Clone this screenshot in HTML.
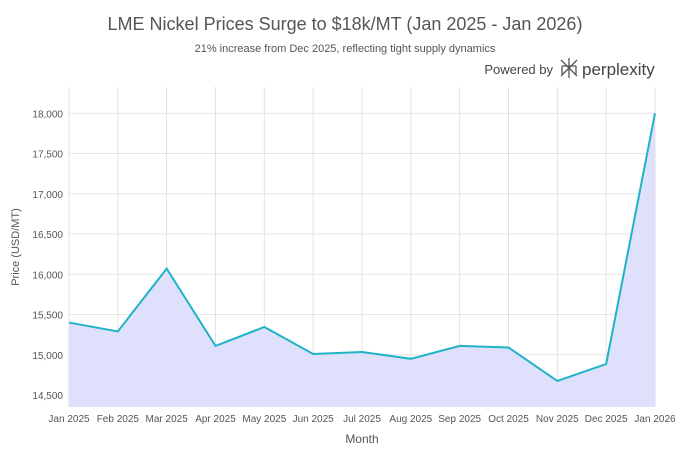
<!DOCTYPE html>
<html><head><meta charset="utf-8"><style>
body{margin:0;background:#fff;font-family:"Liberation Sans",sans-serif;}
svg text{font-family:"Liberation Sans",sans-serif;}
</style></head><body>
<svg id="c" width="690" height="459">
<text x="345" y="30" text-anchor="middle" font-size="18" fill="#555">LME Nickel Prices Surge to $18k/MT (Jan 2025 - Jan 2026)</text>
<text x="345" y="52" text-anchor="middle" font-size="11" fill="#555">21% increase from Dec 2025, reflecting tight supply dynamics</text>
<g>
<text x="553" y="74" text-anchor="end" font-size="13" fill="#444">Powered by</text>
<g stroke="#555" stroke-width="1.3" fill="none"><path d="M561 60 L577 76 M577 60 L561 76 M569 58 L569 78 M562 66 L576 66 M562 66 L562 74 M576 66 L576 74"/></g>
<text x="582" y="75" font-size="17" fill="#444">perplexity</text>
</g>
<g id="grid"></g>
<path id="area" fill="#dfe0fb"/>
<path id="line" fill="none" stroke="#1fb3c8" stroke-width="2"/>
<g id="yt"></g><g id="xt"></g>
<text x="0" y="0" transform="translate(19,247) rotate(-90)" text-anchor="middle" font-size="11" fill="#555">Price (USD/MT)</text>
<text x="362" y="443" text-anchor="middle" font-size="12" fill="#555">Month</text>
</svg>
<script>
const categories=["Jan 2025","Feb 2025","Mar 2025","Apr 2025","May 2025","Jun 2025","Jul 2025","Aug 2025","Sep 2025","Oct 2025","Nov 2025","Dec 2025","Jan 2026"];
const prices=[15400,15290,16070,15110,15345,15010,15035,14950,15110,15090,14675,14885,18000];
const yTicks=[14500,15000,15500,16000,16500,17000,17500,18000];
const plotX0=69,plotX1=655,plotTop=87,plotBot=407;
const X=i=>plotX0+i*(plotX1-plotX0)/(categories.length-1);
const Y=v=>113.3+(18000-v)*0.08049;
const ns="http://www.w3.org/2000/svg";
function mk(t,a,p){const e=document.createElementNS(ns,t);for(const k in a)e.setAttribute(k,a[k]);p.appendChild(e);return e;}
const g=document.getElementById('grid'),yt=document.getElementById('yt'),xt=document.getElementById('xt');
yTicks.forEach(v=>{
const l=mk('line',{x1:plotX0,x2:plotX1,y1:Y(v),y2:Y(v),stroke:'#e6e6e6'},g);


const t=mk('text',{x:plotX0-6,y:Y(v)+4,'text-anchor':'end','font-size':'10','fill':'#555'},yt);
t.textContent=v.toLocaleString('en-US');


});
categories.forEach((c,i)=>{
const l=mk('line',{x1:X(i),x2:X(i),y1:plotTop,y2:plotBot,stroke:'#e2e2e2'},g);


const t=mk('text',{x:X(i),y:422,'text-anchor':'middle','font-size':'10','fill':'#555'},xt);
t.textContent=c;


});
let d=prices.map((v,i)=>(i?'L':'M')+X(i)+' '+Y(v)).join(' ');
document.getElementById('line').setAttribute('d',d);
document.getElementById('area').setAttribute('d',d+` L${X(prices.length-1)} ${plotBot} L${X(0)} ${plotBot} Z`);
</script>
</body></html>
